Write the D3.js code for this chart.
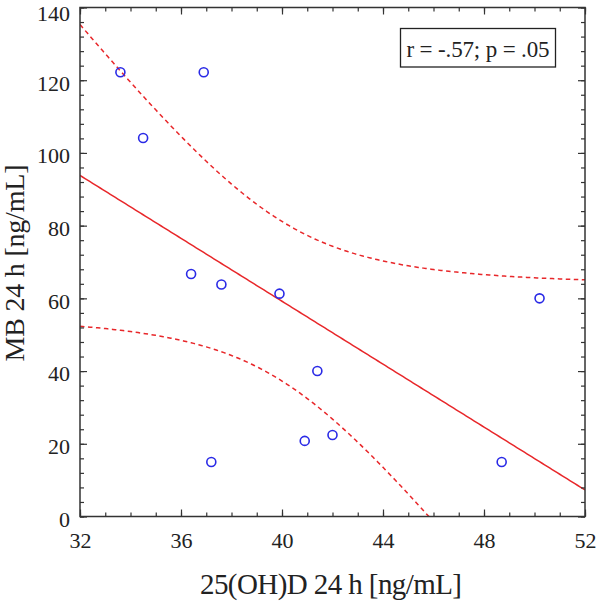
<!DOCTYPE html>
<html><head><meta charset="utf-8">
<script src="https://cdn.jsdelivr.net/npm/d3@7"></script>
<style>body{margin:0;background:#fff}svg{display:block}text{font-family:"Liberation Serif","DejaVu Serif",serif;fill:#222}</style>
</head><body><div id="chart"></div>
<script>
const vitD = [33.6, 34.5, 36.9, 36.4, 37.6, 39.9, 37.2, 40.9, 41.4, 42.0, 48.7, 50.2];
const mb   = [122.2, 104.1, 122.2, 66.7, 63.8, 61.3, 15.0, 20.8, 40.0, 22.4, 15.0, 60.0];
const xTicks = [32, 36, 40, 44, 48, 52];
const yTicks = [0, 20, 40, 60, 80, 100, 120, 140];
const xTitle = "25(OH)D 24 h [ng/mL]";
const yTitle = "MB 24 h [ng/mL]";
const statLabel = "r = -.57; p = .05";
const tCrit = 2.228; // t(0.975, df=10)

const W = 596, H = 601;
const m = {left: 80, right: 11, top: 7.5, bottom: 84.5};
const svg = d3.select("#chart").append("svg").attr("width", W).attr("height", H);
const x = d3.scaleLinear().domain([32, 52]).range([m.left, W - m.right]);
const y = d3.scaleLinear().domain([0, 140]).range([H - m.bottom, m.top]);

// regression + confidence band from the data
const n = vitD.length;
const mx = d3.mean(vitD), my = d3.mean(mb);
let sxx = 0, sxy = 0;
vitD.forEach((v, i) => { sxx += (v - mx) ** 2; sxy += (v - mx) * (mb[i] - my); });
const b = sxy / sxx, a = my - b * mx;
let sse = 0; vitD.forEach((v, i) => { sse += (mb[i] - (a + b * v)) ** 2; });
const s = Math.sqrt(sse / (n - 2));
const xs = d3.range(32, 52.001, 0.1);
const band = xs.map(v => {
  const se = s * Math.sqrt(1 / n + (v - mx) ** 2 / sxx);
  return {x: v, fit: a + b * v, lo: a + b * v - tCrit * se, hi: a + b * v + tCrit * se};
});

svg.append("defs").append("clipPath").attr("id", "clip").append("rect")
  .attr("x", m.left).attr("y", m.top).attr("width", W - m.left - m.right).attr("height", H - m.top - m.bottom);

const g = svg.append("g").attr("clip-path", "url(#clip)");
const red = "#e8272a";
g.append("path").datum(band).attr("fill", "none").attr("stroke", red).attr("stroke-width", 1.5)
  .attr("d", d3.line().x(d => x(d.x)).y(d => y(d.fit)));
g.append("path").datum(band).attr("fill", "none").attr("stroke", red).attr("stroke-width", 1.5)
  .attr("stroke-dasharray", "4.5,3.5")
  .attr("d", d3.line().x(d => x(d.x)).y(d => y(d.hi)));
g.append("path").datum(band).attr("fill", "none").attr("stroke", red).attr("stroke-width", 1.5)
  .attr("stroke-dasharray", "4.5,3.5")
  .attr("d", d3.line().x(d => x(d.x)).y(d => y(d.lo)));

// axes (ticks inward, all four sides)
const axCol = "#333";
function styleAxis(sel) {
  sel.select(".domain").remove();
  sel.selectAll("line").attr("stroke", axCol).attr("stroke-width", 1.2);
  sel.selectAll("text").style("font-size", "22px").attr("fill", "#222");
}
const x0 = H - m.bottom, y0 = m.left;
svg.append("g").attr("transform", `translate(0,${x0})`)
  .call(d3.axisBottom(x).tickValues(d3.range(32, 53, 1)).tickSize(-4).tickFormat(""))
  .call(styleAxis);
svg.append("g").attr("transform", `translate(0,${x0})`)
  .call(d3.axisBottom(x).tickValues(xTicks).tickSize(-7).tickPadding(16).tickFormat(d3.format("d")))
  .call(styleAxis);
svg.append("g").attr("transform", `translate(0,${m.top})`)
  .call(d3.axisTop(x).tickValues(d3.range(32, 53, 1)).tickSize(-4).tickFormat(""))
  .call(styleAxis);
svg.append("g").attr("transform", `translate(0,${m.top})`)
  .call(d3.axisTop(x).tickValues(xTicks).tickSize(-7).tickFormat(""))
  .call(styleAxis);
svg.append("g").attr("transform", `translate(${y0},0)`)
  .call(d3.axisLeft(y).tickValues(d3.range(0, 141, 4)).tickSize(-4).tickFormat(""))
  .call(styleAxis);
svg.append("g").attr("transform", `translate(${y0},0)`)
  .call(d3.axisLeft(y).tickValues(yTicks).tickSize(-7).tickPadding(10).tickFormat(d3.format("d")))
  .call(styleAxis)
  .call(sel => sel.selectAll("text").attr("dy", d => d === 140 ? "0.57em" : "0.45em"));
svg.append("g").attr("transform", `translate(${W - m.right},0)`)
  .call(d3.axisRight(y).tickValues(d3.range(0, 141, 4)).tickSize(-4).tickFormat(""))
  .call(styleAxis);
svg.append("g").attr("transform", `translate(${W - m.right},0)`)
  .call(d3.axisRight(y).tickValues(yTicks).tickSize(-7).tickFormat(""))
  .call(styleAxis);

svg.append("rect").attr("x", m.left).attr("y", m.top).attr("width", W - m.left - m.right)
  .attr("height", H - m.top - m.bottom).attr("fill", "none").attr("stroke", axCol).attr("stroke-width", 1.5);

// points
svg.append("g").selectAll("circle").data(vitD).join("circle")
  .attr("cx", d => x(d)).attr("cy", (d, i) => y(mb[i])).attr("r", 4.5)
  .attr("fill", "none").attr("stroke", "#2a2ae6").attr("stroke-width", 1.6);

// stat box
svg.append("rect").attr("x", 400.5).attr("y", 28.5).attr("width", 155).attr("height", 38.5)
  .attr("fill", "#fff").attr("stroke", "#222").attr("stroke-width", 1.3);
svg.append("text").attr("x", 478).attr("y", 56.5).attr("text-anchor", "middle")
  .style("font-size", "23px").attr("textLength", 143).attr("lengthAdjust", "spacing").text(statLabel);

// titles
svg.append("text").attr("x", 331).attr("y", 594).attr("text-anchor", "middle")
  .style("font-size", "29px").attr("textLength", 262).attr("lengthAdjust", "spacing").text(xTitle);
svg.append("text").attr("transform", `translate(24,263) rotate(-90)`)
  .attr("text-anchor", "middle").style("font-size", "28px")
  .attr("textLength", 197).attr("lengthAdjust", "spacing").text(yTitle);
</script></body></html>
